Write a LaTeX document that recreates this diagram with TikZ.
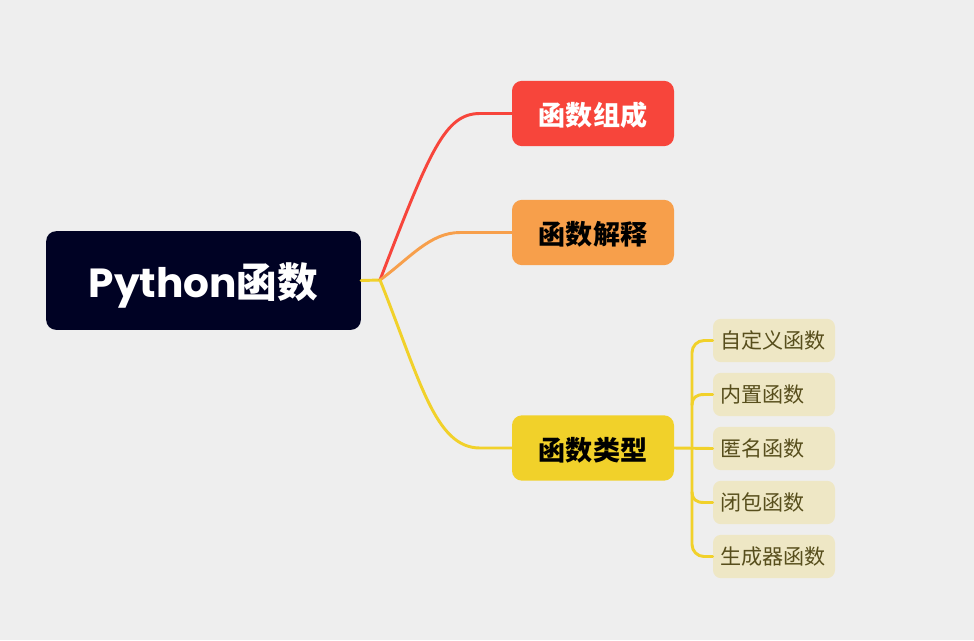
\documentclass[tikz,border=0pt]{standalone}
\usepackage{fontspec}
\setmainfont{Poppins}
\newfontfamily\cjk{Noto Sans CJK SC}
\definecolor{bgc}{HTML}{EEEEEE}
\definecolor{rootc}{HTML}{000224}
\definecolor{redc}{HTML}{F7453B}
\definecolor{orangec}{HTML}{F79F4B}
\definecolor{yellowc}{HTML}{F1D12A}
\definecolor{leafc}{HTML}{EEE7C5}
\definecolor{leaftext}{HTML}{574E1C}
\newcommand\lowered[2]{\raisebox{-#1}[\height][\depth]{#2}}
\tikzset{
  rootbox/.style={fill=rootc, rounded corners=7.5, minimum width=236pt, minimum height=74pt, text=white, font=\fontsize{30.5}{33}\selectfont\bfseries},
  topicbox/.style={rounded corners=7.5, minimum width=121.5pt, minimum height=49pt, font=\cjk\fontsize{20.3}{23}\selectfont\bfseries},
  leafbox/.style={fill=leafc, rounded corners=6, text width=80pt, align=left, inner xsep=5.75pt, minimum height=32.5pt, text=leaftext, font=\cjk\fontsize{15.8}{18}\selectfont},
  link/.style={line width=2.2pt, line cap=round}
}
\begin{document}
\begin{tikzpicture}[x=0.75pt,y=0.75pt,yscale=-1]

%Background
\fill[bgc] (0,0) rectangle (974,640);
\useasboundingbox (0,0) rectangle (974,640);

%Root
\node[rootbox] (root) at (203.5,280.5) {\lowered{4pt}{Python{\cjk 函数}}};
\coordinate (hub) at (380,280);

%Main topics
\node[topicbox, fill=redc, text=white] (parts) at (593,113.5) {\lowered{1.5pt}{函数组成}};
\node[topicbox, fill=orangec, text=black] (explain) at (593,232.5) {\lowered{1.5pt}{函数解释}};
\node[topicbox, fill=yellowc, text=black] (kinds) at (593,448) {\lowered{1.5pt}{函数类型}};

%Subtopics
\node[leafbox] (custom) at (774,340.5) {自定义函数};
\node[leafbox] (builtin) at (774,394.5) {内置函数};
\node[leafbox] (lambda) at (774,448.5) {匿名函数};
\node[leafbox] (closure) at (774,502.5) {闭包函数};
\node[leafbox] (generator) at (774,556.5) {生成器函数};

%Connectors
\draw[link, yellowc] (root.east) -- (hub);
\draw[link, redc] (hub) .. controls (430,150) and (445,113.5) .. (480,113.5) -- (parts.west);
\draw[link, orangec] (hub) .. controls (410,258) and (430,232.5) .. (460,232.5) -- (explain.west);
\draw[link, yellowc] (hub) .. controls (420,380) and (435,448) .. (480,448) -- (kinds.west);

%Bracket
\draw[link, yellowc, rounded corners=9] (custom.west) -- (692,340.5) -- (692,556.5) -- (generator.west);
\draw[link, yellowc] (kinds.east) -- (lambda.west);
\draw[link, yellowc] (692,405) .. controls (692,398) and (696,394.5) .. (704,394.5) -- (builtin.west);
\draw[link, yellowc] (692,492) .. controls (692,499) and (696,502.5) .. (704,502.5) -- (closure.west);

\end{tikzpicture}
\end{document}
